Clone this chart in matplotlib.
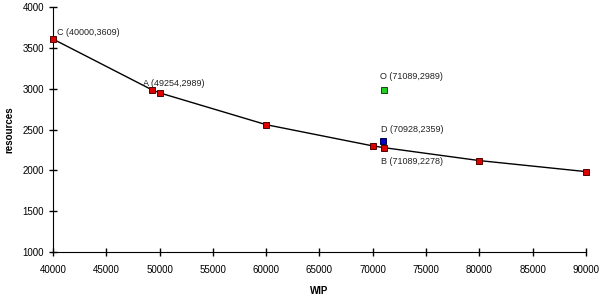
import matplotlib.pyplot as plt

plt.rcParams["font.family"] = "Liberation Sans"

# frontier points (red)
wip = [40000, 49254, 50000, 60000, 70000, 71089, 80000, 90000]
resources = [3609, 2989, 2950, 2560, 2300, 2278, 2120, 1985]

# other points
point_o = (71089, 2989)
point_d = (70928, 2359)

labels = [
    ("C (40000,3609)", (40000, 3609), (4, 7)),
    ("A (49254,2989)", (49254, 2989), (-9, 6)),
    ("O (71089,2989)", point_o, (-4, 13)),
    ("D (70928,2359)", point_d, (-2, 12)),
    ("B (71089,2278)", (71089, 2278), (-3, -14)),
]

fig = plt.figure(figsize=(6.04, 2.97), dpi=100)
ax = fig.add_axes([0.0877, 0.1515, 0.8823, 0.8245])

ax.plot(wip, resources, color="black", linewidth=1, zorder=2)
ax.plot(wip, resources, linestyle="none", marker="s", markersize=5, clip_on=False,
        markerfacecolor="#dd0000", markeredgecolor="#550000", markeredgewidth=0.7, zorder=3)
ax.plot(*point_o, linestyle="none", marker="s", markersize=5,
        markerfacecolor="#22cc22", markeredgecolor="#114411", markeredgewidth=0.7, zorder=3)
ax.plot(*point_d, linestyle="none", marker="s", markersize=5,
        markerfacecolor="#0000cc", markeredgecolor="#000044", markeredgewidth=0.7, zorder=3)

for text, xy, off in labels:
    ax.annotate(text, xy=xy, xytext=off, textcoords="offset pixels",
                fontsize=6.5, color="#222222", va="center", ha="left")

ax.set_xlim(40000, 90000)
ax.set_ylim(1000, 4000)
ax.set_xticks(range(40000, 90001, 5000))
ax.set_yticks(range(1000, 4001, 500))
ax.tick_params(direction="inout", length=6, width=1, labelsize=7)
ax.tick_params(axis="x", pad=6)
ax.spines["top"].set_visible(False)
ax.spines["right"].set_visible(False)
ax.set_xlabel("WIP", fontsize=7, fontweight="bold", labelpad=8)
ax.set_ylabel("resources", fontsize=7, fontweight="bold", labelpad=6)

fig.savefig("out.png", dpi=100)
